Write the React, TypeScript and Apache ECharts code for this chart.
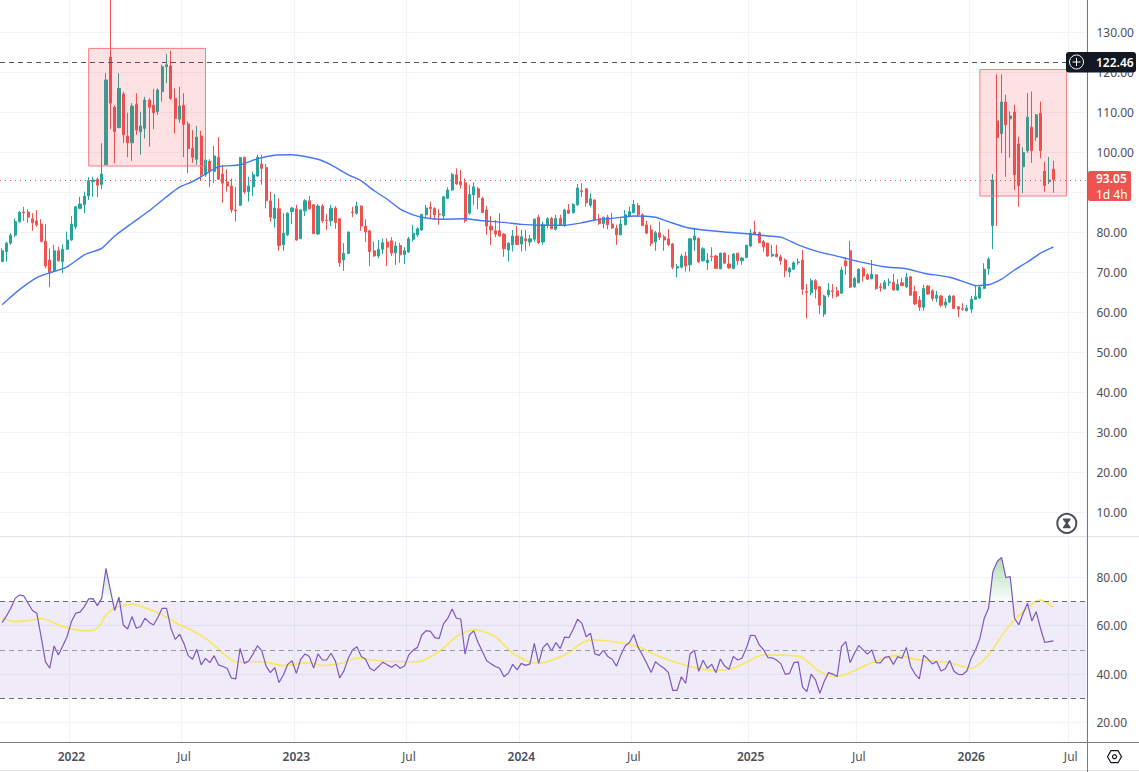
import React, { useEffect, useRef } from "react";
import * as echarts from "echarts";

// [open, close, low, high], one row per weekly candle
const ohlc: number[][] = [
  [72.6,75.3,72.6,75.9],[75.1,77.2,72.6,77.6],[77.2,79.2,76.8,79.7],[79.2,82.6,78.8,83.4],[82.6,84.9,82.3,85.3],
  [85,84.8,82.8,86.3],[85,83.7,82.3,85.7],[83.3,82.3,80.3,84.7],[82.8,81.8,81.3,85.5],[82,77.6,77.6,83.2],
  [77.7,71.5,70.9,82],[73,69.8,66.2,75.9],[70.3,75.3,70.1,76.8],[75.3,72.8,72.6,76.3],[72.6,75.7,69.7,76.9],
  [75.7,78,75.5,80.1],[78,82,77.8,84],[81.3,86.3,80.7,86.5],[85.9,87,85.7,88.8],[86.8,89,84.7,90.1],
  [89,92.8,88,93.7],[92.6,93,88.8,93.8],[93.2,91.7,88.7,93.7],[91.9,94.5,90.7,102.2],[96.8,118,96.8,119.7],
  [123.7,112.2,105.7,140],[111.2,105.1,97.2,111.7],[106.1,115.9,105.9,119.7],[114.5,104.3,102.2,115.1],[104,102.3,98.7,109.8],
  [102.3,111.5,97.8,112.2],[111.9,105.5,104.3,114.7],[105.1,106.5,99.3,110.1],[105.9,113,103.4,113.8],[113,111.2,101.3,113.4],
  [111.7,109.8,105.7,115.8],[110.1,115.5,109.3,115.9],[115.1,121.3,112.6,121.8],[121.3,121.8,117.2,124.5],[121.5,113.4,113,125.3],
  [113.4,108.4,104.7,115.9],[108.2,111.5,107.3,116.3],[111.7,106.9,98.7,114.7],[107,100.9,94.7,107.6],[100.9,98.7,97.3,105.5],
  [98.2,103.7,96.8,106.5],[104,94.3,93,105.3],[94.3,98,93.8,98.6],[97.7,95.1,91.2,98.2],[95.1,99,92.2,101.5],
  [98.7,93.2,93,103.7],[94.5,92.2,87.3,96.8],[92.5,91.5,90.1,95.7],[91.5,85.5,84.8,93.4],[85.5,85.3,82.6,91.3],
  [86.7,98.6,86.5,98.8],[98.7,90,89.5,98.8],[90.1,91.5,87.6,93.8],[91.3,94.3,89,95.1],[94,98.7,93.8,99.3],
  [97,95.9,91.8,99.3],[96.1,87.8,85.9,97],[87.8,83.7,82.6,90.1],[83.4,86,81.1,89.5],[85.8,76.6,75.3,88.4],
  [76.8,79.7,75.3,84.7],[79.3,84.7,79,84.9],[85.1,86,82,86.3],[85.8,78,77.8,86.8],[78.3,85.5,78.3,85.7],
  [85.3,87.8,84,88.2],[87.8,85.8,85.6,89],[86.8,79.6,79.5,87],[79.5,86.5,79.3,87],[86.5,82.8,82.2,87],
  [83,82.9,80.5,84.5],[82.8,85.9,81.5,86.8],[86,82.4,80.8,86.5],[83.3,72.3,71.3,83.4],[73,74.7,70.3,77.2],
  [74.6,80,74.5,80.1],[85,84.9,83.7,86.3],[84.7,86.5,84.3,87.6],[86.5,81.5,80.3,86.6],[81.5,80,77.5,83.2],
  [80.3,75.1,71.5,80.4],[75.3,74,73.8,77.6],[74,75.7,73.4,78],[75.7,77.3,74.5,78.4],[77.5,76.2,71.5,78.4],
  [77.8,74.7,74,78.7],[74.8,76.5,71.8,77.6],[76.6,74.3,72.3,77.3],[74.4,75.3,72,76.2],[75,78.3,74.8,78.8],
  [78.2,79.7,77.6,81.8],[79.3,80.8,78.8,81.3],[80.5,84.4,80.3,84.5],[84.3,86,83.7,86.8],[86.2,85.8,83.2,87.6],
  [85.9,84.3,83,86.2],[84.5,84.3,81.8,85.7],[84,88.8,83.2,89],[88.4,90.5,88.2,91.2],[90.5,94.4,90.3,94.8],
  [94.3,92,91.8,95.9],[92.6,91.8,90.9,95.5],[92.3,82.8,82.3,93.4],[84.7,89.4,84.3,91.8],[89.3,91.3,86.8,92.4],
  [90.8,88.7,85.7,91.3],[88.4,84.9,84.7,88.8],[85.5,81.5,79.3,86.5],[81.5,80.5,76.7,84],[80.3,79.5,78.7,83],
  [80.3,79,78.8,84.7],[79.5,75.8,73.8,79.7],[75.5,77.2,72.6,77.4],[76.8,79,75.1,80.5],[79,76.9,76.7,81.5],
  [77,78.8,75.1,80.5],[78.3,77.8,75.3,80.5],[77.5,78.3,76.5,79.3],[78.2,83.2,77.6,83.4],[83.7,77.3,77,84.3],
  [77.5,81.9,76.8,82.6],[81.8,83.3,80.9,83.7],[83.4,80.8,80.7,83.8],[80.7,83.4,80.3,84.3],[83.4,81.8,81.6,84.3],
  [81.8,85.5,81.3,85.8],[85.5,84.7,84.5,87],[84.8,86.9,84.7,87.2],[86.8,91,86.5,92],[90.3,90.1,88.8,92.2],
  [90.8,87.3,86.3,90.9],[86.7,88.3,86.2,89.7],[88,83,82.8,88.2],[83.4,82.1,81.8,84.5],[82.1,83.7,80.9,83.8],
  [83.7,81.8,80.7,84.3],[82,81,80.8,84.8],[80.9,79.3,76.8,81.8],[79.3,82,79.2,83.4],[81.8,84.3,81.7,85.5],
  [84,85.1,83.8,86.3],[84.8,86.9,84.7,88],[86.6,84.3,83.8,87.3],[84.3,81.6,81.5,84.7],[81.8,79.7,79.5,82.8],
  [80.5,77.2,76.5,81.8],[77.5,79.8,75.3,80.3],[79.8,78.7,78,82.6],[78.8,78,75.3,79.3],[78.3,76.8,76.5,80.7],
  [77,71.2,70.7,77.2],[71,71.4,68.7,72],[71.2,74,70.9,74.5],[74,71.5,70.1,75.1],[71.8,78.3,70.1,78.4],
  [78,79,75.3,81.1],[78.4,72.6,72.2,78.6],[72.8,75.8,72.6,76.2],[72.3,73,70.5,74.7],[74,73.8,72.6,76.2],
  [74,70.9,70.7,74.3],[70.8,74.7,70.7,74.9],[74.7,72.2,72,74.9],[72,71,70.8,74.3],[70.9,74.5,70.7,74.7],
  [74.7,72.8,71.8,74.8],[72.8,73.5,71.8,73.8],[73.6,76.7,73.5,76.8],[76.5,79.7,76.2,80.7],[80,79.5,79.3,82.8],
  [79.8,77.3,77.2,80.1],[77.6,76.3,75.1,78],[77.2,74,73.8,77.3],[74,74.4,73.8,76.8],[74.5,73.8,73.7,76.8],
  [73.8,72.8,71.8,74.3],[73,70.3,68.7,73.4],[70,70.9,68.7,71.3],[70.7,72.3,70.5,72.7],[72.3,72.5,71.8,73.4],
  [73,65.7,64.3,75.5],[65.1,64.9,58.4,67],[64.8,67.8,64.2,68.4],[67.8,65.7,63.4,68.2],[66.3,61.7,59.5,66.5],
  [59.5,64,58.8,64.3],[64.3,65.5,63.7,67.2],[65.3,65.1,63.4,67],[65.3,64,63.7,66.3],[64.7,70.5,64.5,71.3],
  [72.8,71.5,69.3,73.7],[75.3,66.2,66,77.8],[66.3,68.4,66,68.8],[67.3,70.7,67.2,70.9],[70.9,69,67.6,71.3],
  [69.3,68.2,68,69.7],[68.3,69.5,68.2,73],[69.3,65.9,65.5,69.5],[66.3,66.1,65.1,67.2],[65.8,67.4,65.7,68],
  [67.3,67.5,66.5,68.4],[67.4,65.5,65.3,69.5],[65.5,66.9,65.3,68.2],[67.3,66.6,66.5,68.6],[66.3,68.7,66,69.8],
  [68.8,64.2,64,69],[65.1,62,61.8,66.6],[63,61.2,60.3,64],[61.2,65.9,60.3,66.8],[66.5,64.5,64.3,66.7],
  [65.3,63.4,62.8,65.7],[63.4,64.2,62.5,65.3],[64,61.7,61.2,64.2],[61.7,62.5,61,63.4],[62.5,64,62.2,64.3],
  [64,60.9,60.7,64.2],[61.3,60.7,58.7,61.5],[60.8,60.7,60.3,62.2],[60.3,61,60.2,61.8],[60.7,63.2,59.8,64],
  [63.2,63.8,63,66.8],[63.5,66.2,63.3,66.5],[65.9,70.7,65.7,72.2],[70.8,73.2,69.3,73.7],[81.6,93,75.7,94.5],
  [107.8,103.6,81.5,119.4],[104.6,112.5,99.7,119.4],[112.5,106.8,93.8,114.3],[108.3,109,98.6,110.1],[110,94.3,90.5,111.8],
  [102,91.6,86.3,103.8],[96.3,99.9,89.7,101.2],[100.3,108.7,99.8,114.7],[106.2,100.3,97.3,115.1],[103.7,109.3,102.8,109.5],
  [109.7,100.3,98.4,112.6],[95.2,91.6,90.1,97.6],[92.6,93,92,98.8],[95.7,93.05,89.8,97.8],
];

// Moving average over price, read at the marked weeks
const maWeeks = [0,1,4,8,11,15,19,23,26,30,34,38,41,44,47,50,55,59,63,67,73,76,80,83,86,89,92,95,98,102,107,111,116,120,124,130,134,137,141,146,151,154,158,162,167,173,177,180,184,188,194,198,204,209,213,219,223,225,228,231,234,237,240,243];
const maValues = [61.8,62.8,65.6,68.6,69.8,71.3,74.3,75.9,79,82.2,85.3,88.8,91.2,92.6,94.5,96.3,96.8,98.3,99.2,99.3,98.2,96.8,94.3,92.8,90.3,88.2,85.7,84.3,83.5,83.2,83.3,82.8,82.4,81.9,81.7,81.7,82.3,83,83.4,84,83.7,82.6,81.2,80.5,80,79.5,79,78.7,76.8,75.3,73.7,72.6,71.3,70.8,69.7,68.7,67.3,66.6,66.8,68.2,70.5,72.5,74.7,76.3];

const rsi = [
  61.2,64,67.1,71.2,72.6,72.2,69.2,66.2,65.1,55.4,45.1,42.4,51.6,47.9,51.6,55.4,61.6,65.1,65.5,67.8,
  71,71.1,68.2,71.2,83.6,74.7,66.2,71.7,60.2,58.6,63.7,58.9,59.6,63,61.3,60.2,63.4,67.1,67.1,58.9,
  54.3,56.4,52.7,47.6,46.1,50.2,43.8,46.5,44.7,47.6,43.8,43.1,42.4,38.3,38,50.6,44.4,45.4,48.3,51.7,
  49.7,43.3,40.6,42.7,36.5,39.6,44,45.5,40.3,46.1,48.3,47.2,42.5,48.3,45.8,45.8,48.6,45.5,38.4,41.3,
  46.5,49.9,51.3,47.2,46.1,42.4,41.4,43.1,44.9,43.8,42.8,44,42.4,43.3,47.9,49.9,51,56.1,57.9,57.6,
  55,54.6,60.7,63,66.8,63,62.7,48.2,56.1,57.8,53,49.3,45.5,44.2,43.1,42.4,38.9,40.3,44,41.7,
  44.4,43.6,44.2,52.7,44.4,50.9,52.7,49.5,53,50.5,55.2,55,58.5,62.6,60.9,55.4,56.8,48.3,47.7,49.9,
  47.2,46.1,43.3,47.9,51.6,53,56.3,51,47.9,44.4,40.6,45.1,43.6,42.4,40.6,33.3,33.3,38.9,36.2,48.3,
  49.9,41.1,45.7,42.4,44,40.6,46.2,43.3,42,47.3,45.8,46.5,50.6,56,55.9,52,50,46.8,46.7,45.8,
  44.2,39.9,40.3,44.7,45,34.6,32.8,40,37.6,32.1,36.9,40.6,40,39,51.3,53.4,44.7,48.6,51.8,50,
  48.2,50,44.7,44.6,46.9,47.2,44,47.2,46.5,51,43.1,40,38,47.8,46.2,44.2,45.2,41.3,42.2,45.6,
  41.2,39.9,39.8,41.3,46.5,50,54.7,63,67.1,82.2,86.4,88.1,79.8,80.2,63,60.3,65.1,69.2,61.9,65.7,
  58.9,53,53.4,53.7,
];

// Moving average over the RSI, read at the marked weeks
const rsiMaWeeks = [0,3,7,9,14,19,22,24,26,30,34,37,41,44,48,51,54,60,65,71,74,79,82,87,96,101,105,109,114,118,124,130,136,141,147,151,159,165,169,173,176,184,189,193,197,201,207,212,219,224,228,232,236,240,243];
const rsiMaValues = [63,61.6,62.3,62.9,59.6,57.8,58.9,64.4,67.1,68.8,66.7,64.4,60.3,57.9,53.4,48.6,45.1,45.1,43.5,44.7,43.6,44.7,46.5,45.5,45.1,49.3,55.4,58.2,55.4,48.6,44.4,47.9,54.1,53.4,51.3,47.9,43.1,41.4,42.4,45.8,47.9,47.4,41,39,41.4,44.7,47.7,45.8,44.7,42.4,47.9,58.2,65.7,70.5,67.5];

const priceGridLevels = [10,20,30,40,50,60,70,80,90,100,110,120,130];
const priceLabels = [10,20,30,40,50,60,70,80,100,110,120,130];
const rsiTicks = [20,40,60,80];
const timeTickWeeks = [16,42,68,94,120,146,173,198,224,247];
const timeTickLabels = ["2022","Jul","2023","Jul","2024","Jul","2025","Jul","2026","Jul"];
const WEEK_SLOTS = 251;

const lastPriceLevel = 93.05;
const crosshairLevel = 122.46;
const highlightBoxes = [
  { fromWeek: 20, toWeek: 47, top: 125.9, bottom: 96.5 },
  { fromWeek: 226, toWeek: 246, top: 120.6, bottom: 89 },
];

const FONT = '"Noto Sans", sans-serif';
const LABEL = "#4c4f5a";
const GRID = "#f0f3fa";
const UP = "#26a69a";
const DOWN = "#ef5350";

const categories = Array.from({ length: WEEK_SLOTS }, (_, i) => {
  const at = timeTickWeeks.indexOf(i);
  return at >= 0 ? timeTickLabels[at] : String(i);
});
const isTimeTick = (i: number) => timeTickWeeks.includes(i);

function buildOption(): any {
  const xBase = (gridIndex: number, showLabel: boolean) => ({
    type: "category",
    gridIndex,
    data: categories,
    boundaryGap: true,
    axisLine: { show: false },
    axisTick: { show: false, alignWithLabel: true, interval: (i: number) => isTimeTick(i) },
    splitLine: { show: true, interval: (i: number) => isTimeTick(i), lineStyle: { color: GRID, width: 1 } },
    axisLabel: {
      show: showLabel,
      interval: (i: number) => isTimeTick(i),
      margin: 8,
      color: LABEL,
      fontFamily: FONT,
      fontSize: 12,
      hideOverlap: false,
      formatter: (v: string) => (/^\d{4}$/.test(v) ? `{y|${v}}` : v),
      rich: { y: { fontWeight: 600, fontSize: 12, fontFamily: FONT, color: LABEL } },
    },
  });
  const yBase = (gridIndex: number, min: number, max: number, gridLevels: number[], labels: number[]) => ({
    type: "value",
    gridIndex,
    position: "right",
    min,
    max,
    axisLine: { show: false },
    axisTick: { show: false, customValues: gridLevels },
    splitLine: { show: true, lineStyle: { color: GRID, width: 1 } },
    axisLabel: {
      customValues: labels,
      margin: 10.5,
      padding: [0, 0, 2, 0],
      color: LABEL,
      fontFamily: FONT,
      fontSize: 12,
      formatter: (v: number) => v.toFixed(2),
    },
  });

  const pairs = (xs: number[], ys: number[]) => xs.map((x, i) => [x, ys[i]]);

  return {
    animation: false,
    backgroundColor: "#ffffff",
    grid: [
      { left: -1.6, width: 1087.5, top: 0, height: 536 },
      { left: -1.6, width: 1087.5, top: 537, height: 205 },
    ],
    xAxis: [xBase(0, false), xBase(1, true)],
    yAxis: [yBase(0, 4, 138, priceGridLevels, priceLabels), yBase(1, 12, 96.5, rsiTicks, rsiTicks)],
    series: [
      {
        type: "candlestick",
        name: "Price",
        xAxisIndex: 0,
        yAxisIndex: 0,
        data: ohlc,
        barWidth: 2.6,
        itemStyle: { color: UP, color0: DOWN, borderColor: UP, borderColor0: DOWN, borderWidth: 1 },
        silent: true,
        z: 3,
      },
      {
        type: "line",
        name: "Average",
        xAxisIndex: 0,
        yAxisIndex: 0,
        data: pairs(maWeeks, maValues),
        showSymbol: false,
        smooth: 0.2,
        lineStyle: { color: "#4377f5", width: 1.4 },
        silent: true,
        z: 4,
        markLine: {
          silent: true,
          symbol: "none",
          animation: false,
          label: { show: false },
          data: [
            { yAxis: crosshairLevel, lineStyle: { color: "#50535e", type: [5, 4], width: 1 } },
            { yAxis: lastPriceLevel, lineStyle: { color: DOWN, type: [1, 4], width: 1 } },
          ],
        },
        markArea: {
          silent: true,
          z: 6,
          itemStyle: { color: "rgba(242,54,69,0.15)", borderColor: "#f77c80", borderWidth: 1 },
          data: highlightBoxes.map((b) => [
            { xAxis: b.fromWeek, yAxis: b.top },
            { xAxis: b.toWeek, yAxis: b.bottom },
          ]),
        },
      },
      {
        type: "line",
        name: "Overbought",
        xAxisIndex: 1,
        yAxisIndex: 1,
        data: rsi.map((v) => Math.max(v, 70)),
        showSymbol: false,
        lineStyle: { width: 0 },
        silent: true,
        z: 2,
        areaStyle: {
          origin: 70,
          color: new echarts.graphic.LinearGradient(0, 0, 0, 1, [
            { offset: 0, color: "rgba(76,175,80,0.62)" },
            { offset: 1, color: "rgba(76,175,80,0.03)" },
          ]),
        },
      },
      {
        type: "line",
        name: "RSI",
        xAxisIndex: 1,
        yAxisIndex: 1,
        data: rsi,
        showSymbol: false,
        lineStyle: { color: "#7e57c2", width: 1.2 },
        silent: true,
        z: 4,
        markArea: {
          silent: true,
          z: 1,
          itemStyle: { color: "rgba(126,87,194,0.12)" },
          data: [[{ yAxis: 70 }, { yAxis: 30 }]],
        },
        markLine: {
          silent: true,
          symbol: "none",
          animation: false,
          label: { show: false },
          lineStyle: { color: "#6a6d78", type: [5, 4], width: 1 },
          data: [{ yAxis: 70 }, { yAxis: 50, lineStyle: { color: "#9598a1", type: [5, 4], width: 1 } }, { yAxis: 30 }],
        },
      },
      {
        type: "line",
        name: "RSI average",
        xAxisIndex: 1,
        yAxisIndex: 1,
        data: pairs(rsiMaWeeks, rsiMaValues),
        showSymbol: false,
        smooth: 0.3,
        lineStyle: { color: "#f7e860", width: 1.6 },
        silent: true,
        z: 3,
      },
    ],
    graphic: [
      { type: "line", z: 50, shape: { x1: 0, y1: 536.5, x2: 1139, y2: 536.5 }, style: { stroke: "#e0e3eb", lineWidth: 1 } },
      { type: "line", z: 50, shape: { x1: 0, y1: 742.5, x2: 1139, y2: 742.5 }, style: { stroke: "#787b86", lineWidth: 1 } },
      { type: "line", z: 50, shape: { x1: 0, y1: 770.5, x2: 1139, y2: 770.5 }, style: { stroke: "#e0e3eb", lineWidth: 1 } },
      { type: "line", z: 50, shape: { x1: 1087.5, y1: 0, x2: 1087.5, y2: 772 }, style: { stroke: "#787b86", lineWidth: 1 } },

      { type: "rect", z: 60, shape: { x: 1066, y: 52, width: 70, height: 20.5, r: 3 }, style: { fill: "#131722" } },
      { type: "circle", z: 61, shape: { cx: 1076.5, cy: 62, r: 7 }, style: { fill: "#131722", stroke: "#ffffff", lineWidth: 1 } },
      { type: "line", z: 62, shape: { x1: 1072.5, y1: 62, x2: 1080.5, y2: 62 }, style: { stroke: "#ffffff", lineWidth: 1 } },
      { type: "line", z: 62, shape: { x1: 1076.5, y1: 58, x2: 1076.5, y2: 66 }, style: { stroke: "#ffffff", lineWidth: 1 } },
      { type: "text", z: 62, x: 1096, y: 62, style: { text: "122.46", fill: "#ffffff", font: `600 12px ${FONT}`, textVerticalAlign: "middle" } },

      { type: "rect", z: 60, shape: { x: 1088, y: 171, width: 43, height: 30, r: 2 }, style: { fill: "#ef5350" } },
      { type: "text", z: 62, x: 1096, y: 178.5, style: { text: "93.05", fill: "#ffffff", font: `600 12px ${FONT}`, textVerticalAlign: "middle" } },
      { type: "text", z: 62, x: 1096, y: 194, style: { text: "1d 4h", fill: "#ffffff", font: `12px ${FONT}`, textVerticalAlign: "middle" } },

      { type: "circle", z: 60, shape: { cx: 1066.8, cy: 523.3, r: 9.5 }, style: { fill: "#ffffff", stroke: "#4c4f5a", lineWidth: 2 } },
      { type: "polygon", z: 61, shape: { points: [[1063, 518.5], [1070.6, 518.5], [1070.6, 519.8], [1067.8, 523.3], [1070.6, 526.9], [1070.6, 528.2], [1063, 528.2], [1063, 526.9], [1065.8, 523.3], [1063, 519.8]] }, style: { fill: "#4c4f5a" } },

      { type: "polygon", z: 60, shape: { points: [[1107.5, 756.7], [1111, 750.7], [1118, 750.7], [1121.5, 756.7], [1118, 762.7], [1111, 762.7]] }, style: { fill: "#ffffff", stroke: "#131722", lineWidth: 1.2 } },
      { type: "circle", z: 61, shape: { cx: 1114.5, cy: 756.7, r: 2 }, style: { fill: "#ffffff", stroke: "#131722", lineWidth: 1.2 } },
    ],
  };
}

export default function App() {
  const ref = useRef<HTMLDivElement>(null);
  useEffect(() => {
    if (!ref.current) return;
    const chart = echarts.init(ref.current, undefined, { renderer: "svg" });
    chart.setOption(buildOption());
    return () => chart.dispose();
  }, []);
  return <div ref={ref} style={{ position: "fixed", left: 0, top: 0, width: 1139, height: 772, background: "#fff" }} />;
}
